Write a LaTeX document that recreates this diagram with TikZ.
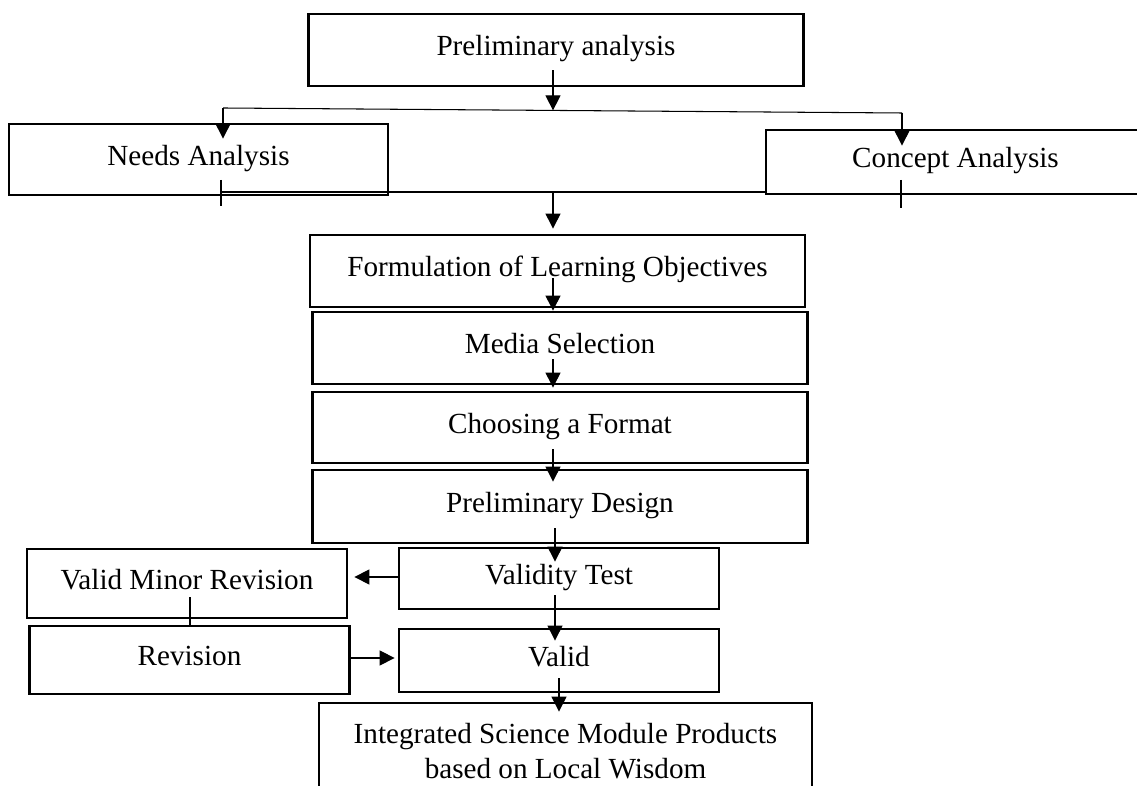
\documentclass[tikz,border=0pt]{standalone}
\usepackage{fontspec}
\setmainfont{Liberation Serif}
\usetikzlibrary{arrows.meta}
\tikzset{
 frame/.style={draw, line width=1.6pt, inner sep=0pt, align=center, font=\fontsize{16.6}{20}\selectfont},
 box/.style={frame, text height=11pt, text depth=4.5pt},
 wide/.style={box, minimum width=9.9cm},
 narrow/.style={box, minimum width=6.4cm},
 flow/.style={line width=0.6pt, -{Triangle[length=0.3cm,width=0.3cm]}},
 link/.style={line width=0.6pt}
}

\begin{document}
\begin{tikzpicture}[x=0.02cm,y=-0.02cm]
\useasboundingbox (0,0) rectangle (1137,786);
\node[wide, minimum height=1.44cm] (prelim) at (556,50) {Preliminary analysis};
\node[box, minimum width=7.58cm, minimum height=1.42cm] (needs) at (198.5,159.5) {Needs Analysis};
\node[box, minimum width=7.58cm, minimum height=1.28cm] (concept) at (955.5,162) {Concept Analysis};
\node[wide, minimum height=1.44cm] (objectives) at (557.5,271) {Formulation of Learning Objectives};
\node[wide, minimum height=1.44cm] (media) at (560,348) {Media Selection};
\node[wide, minimum height=1.42cm] (format) at (560,427.5) {Choosing a Format};
\node[wide, minimum height=1.46cm] (design) at (560,506.5) {Preliminary Design};
\node[narrow, minimum height=1.22cm] (test) at (559,578.5) {Validity Test};
\node[narrow, minimum height=1.38cm] (minor) at (187,583.5) {Valid Minor Revision};
\node[narrow, minimum height=1.36cm] (revision) at (189.5,660) {Revision};
\node[narrow, minimum height=1.26cm] (valid) at (559,660.5) {Valid};
\node[frame, minimum width=9.86cm, minimum height=1.94cm] (product) at (565.5,751.5) {Integrated Science Module Products\\based on Local Wisdom};

\coordinate (splitL) at (223,108);
\coordinate (splitR) at (902,113);
\coordinate (split) at (553,110.4);
\coordinate (joinL) at (221,192);
\coordinate (join) at (553,192);
\coordinate (tickR) at (901,192);
\coordinate (spine) at (555,0);

\draw[flow] ([yshift=0.34cm]prelim.south -| split) -- (split);
\draw[link] (splitL) -- (splitR);
\draw[flow] (splitL) -- ([yshift=-0.32cm]needs.north -| splitL);
\draw[flow] (splitR) -- ([yshift=-0.34cm]concept.north -| splitR);

\draw[link] (joinL) -- (concept.west |- joinL);
\draw[link] (joinL) ++(0,-12) -- ++(0,26);
\draw[link] (tickR) ++(0,-12) -- ++(0,28);
\draw[flow] (join) -- ([yshift=0.1cm]objectives.north -| join);

\draw[flow] ([yshift=0.6cm]objectives.south -| join) -- (media.north -| join);
\draw[flow] ([yshift=0.52cm]media.south -| join) -- ([yshift=0.06cm]format.north -| join);
\draw[flow] ([yshift=0.3cm]format.south -| join) -- ([yshift=-0.26cm]design.north -| join);
\draw[flow] ([yshift=0.32cm]design.south -| spine) -- ([yshift=-0.3cm]test.north -| spine);
\draw[flow] ([yshift=0.3cm]test.south -| spine) -- ([yshift=-0.26cm]valid.north -| spine);
\draw[flow] ([yshift=0.3cm]valid.south) -- ([yshift=-0.2cm]product.north -| valid.south);

\draw[flow] ([yshift=0.03cm]test.west) -- ([xshift=0.12cm,yshift=0.03cm]minor.east |- test.west);
\draw[link] ([yshift=0.44cm]minor.south -| 190,0) -- (revision.north -| 190,0);
\draw[flow] (revision.east |- 0,658) -- ([xshift=-0.06cm]valid.west |- 0,658);
\end{tikzpicture}
\end{document}
